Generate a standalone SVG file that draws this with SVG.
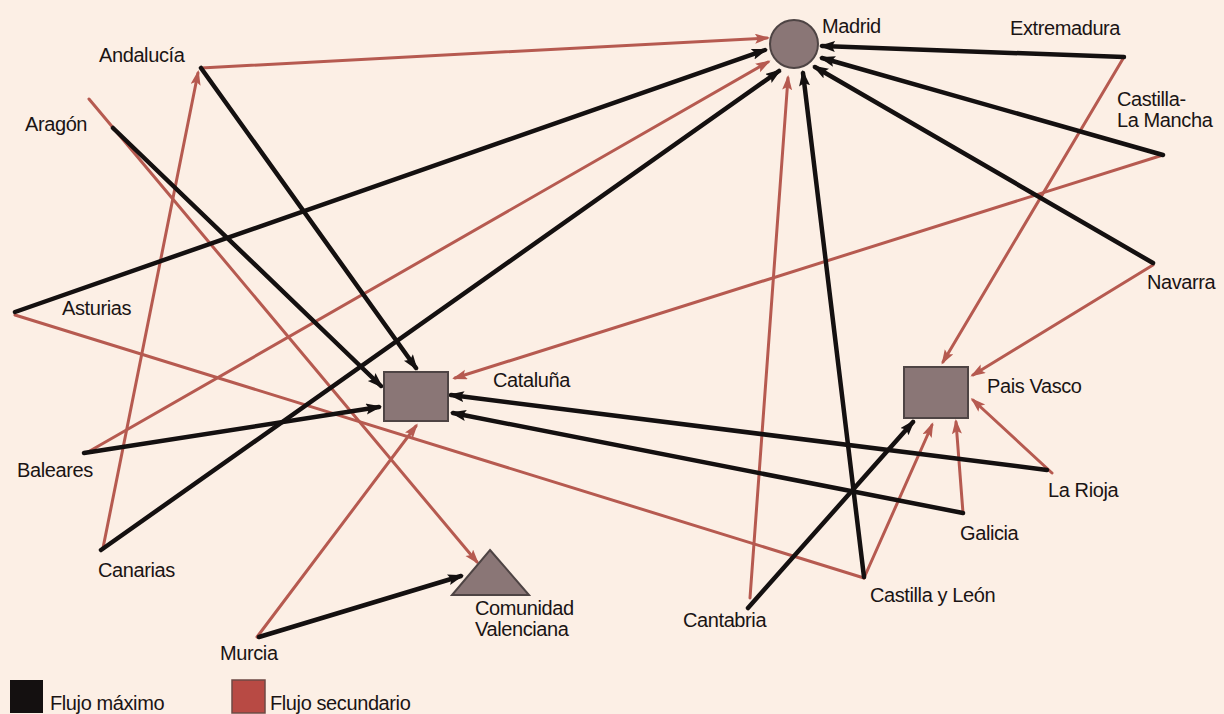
<svg xmlns="http://www.w3.org/2000/svg" width="1224" height="714" viewBox="0 0 1224 714">
<defs>
<style>
.lbl{font-family:"Liberation Sans",Arial,sans-serif;font-size:20px;fill:#1a1414;letter-spacing:-0.4px}
.blk{stroke:#141010;stroke-width:4.5;fill:none;stroke-linecap:round}
.red{stroke:#b65a50;stroke-width:3;fill:none;stroke-linecap:round}
.blk.a{marker-end:url(#ab)}
.red.a{marker-end:url(#ar)}
.dest{fill:#8a7676;stroke:#4e4444;stroke-width:2}
</style>
<marker id="ab" markerUnits="userSpaceOnUse" markerWidth="18" markerHeight="12" refX="13" refY="5.5" orient="auto">
<path d="M0,0 L16,5.5 L0,11 L3,5.5 z" fill="#141010"/>
</marker>
<marker id="ar" markerUnits="userSpaceOnUse" markerWidth="17" markerHeight="11" refX="12" refY="5" orient="auto">
<path d="M0,0 L15,5 L0,10 L3,5 z" fill="#b65a50"/>
</marker>
</defs>
<rect x="0" y="0" width="1224" height="714" fill="#fcefe5"/>

<g id="connectors">
<line class="red a" x1="201" y1="68" x2="767" y2="38"/>
<line class="red a" x1="89" y1="99" x2="477" y2="562"/>
<line class="red" x1="15" y1="315" x2="864" y2="578"/>
<line class="red a" x1="88" y1="452" x2="768" y2="62"/>
<line class="red a" x1="103" y1="548" x2="198" y2="73"/>
<line class="red a" x1="1124" y1="57" x2="943" y2="362"/>
<line class="red a" x1="1163" y1="155" x2="455" y2="378"/>
<line class="red a" x1="1153" y1="265" x2="973" y2="375"/>
<line class="red a" x1="864" y1="578" x2="932" y2="425"/>
<line class="red a" x1="963" y1="513" x2="956" y2="422"/>
<line class="red a" x1="1052" y1="473" x2="973" y2="400"/>
<line class="red a" x1="750" y1="598" x2="788" y2="78"/>
<line class="red a" x1="257" y1="637" x2="416" y2="426"/>

<line class="blk a" x1="201" y1="68" x2="416" y2="368"/>
<line class="blk a" x1="113" y1="128" x2="381" y2="386"/>
<line class="blk a" x1="15" y1="312" x2="765" y2="50"/>
<line class="blk a" x1="84" y1="453" x2="379" y2="407"/>
<line class="blk a" x1="101" y1="550" x2="779" y2="71"/>
<line class="blk a" x1="1124" y1="57" x2="822" y2="46"/>
<line class="blk a" x1="1163" y1="155" x2="822" y2="58"/>
<line class="blk a" x1="1153" y1="263" x2="815" y2="67"/>
<line class="blk a" x1="864" y1="577" x2="803" y2="73"/>
<line class="blk a" x1="963" y1="513" x2="453" y2="413"/>
<line class="blk a" x1="1047" y1="470" x2="451" y2="395"/>
<line class="blk a" x1="748" y1="608" x2="913" y2="422"/>
<line class="blk a" x1="259" y1="637" x2="461" y2="576"/>
</g>

<g id="madrid">
<circle class="dest" cx="794" cy="44" r="24"/>
<text class="lbl" x="822" y="33">Madrid</text>
</g>
<g id="cataluna">
<rect class="dest" x="384" y="372" width="64" height="49"/>
<text class="lbl" x="493" y="387">Cataluña</text>
</g>
<g id="pais-vasco">
<rect class="dest" x="904" y="367" width="64" height="51"/>
<text class="lbl" x="987" y="393">Pais Vasco</text>
</g>
<g id="comunidad-valenciana">
<polygon class="dest" points="490,550 529,595 452,595"/>
<text class="lbl" x="475" y="615">Comunidad</text>
<text class="lbl" x="475" y="636">Valenciana</text>
</g>

<g id="extremadura"><text class="lbl" x="1010" y="35">Extremadura</text></g>
<g id="castilla-la-mancha"><text class="lbl" x="1117" y="106">Castilla-</text><text class="lbl" x="1117" y="127">La Mancha</text></g>
<g id="navarra"><text class="lbl" x="1147" y="289">Navarra</text></g>
<g id="la-rioja"><text class="lbl" x="1048" y="497">La Rioja</text></g>
<g id="galicia"><text class="lbl" x="960" y="540">Galicia</text></g>
<g id="castilla-y-leon"><text class="lbl" x="870" y="602">Castilla y León</text></g>
<g id="cantabria"><text class="lbl" x="683" y="627">Cantabria</text></g>
<g id="andalucia"><text class="lbl" x="99" y="62">Andalucía</text></g>
<g id="aragon"><text class="lbl" x="25" y="131">Aragón</text></g>
<g id="asturias"><text class="lbl" x="62" y="315">Asturias</text></g>
<g id="baleares"><text class="lbl" x="17" y="477">Baleares</text></g>
<g id="canarias"><text class="lbl" x="98" y="577">Canarias</text></g>
<g id="murcia"><text class="lbl" x="220" y="660">Murcia</text></g>

<g id="legend">
<rect x="10" y="680" width="33" height="33" fill="#141010"/>
<text class="lbl" x="50" y="710">Flujo máximo</text>
<rect x="232" y="680" width="33" height="33" fill="#b84a44" stroke="#6e4a44" stroke-width="1.5"/>
<text class="lbl" x="270" y="710">Flujo secundario</text>
</g>
</svg>
